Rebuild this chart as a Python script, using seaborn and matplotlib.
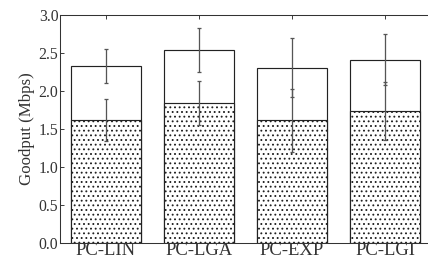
import matplotlib
matplotlib.use("Agg")
import matplotlib.pyplot as plt
import seaborn as sns
import pandas as pd
import numpy as np

categories = ["PC-LIN", "PC-LGA", "PC-EXP", "PC-LGI"]
total_goodput = [2.333, 2.535, 2.307, 2.41]
total_err = [0.225, 0.29, 0.39, 0.335]
dotted_goodput = [1.614, 1.838, 1.614, 1.733]
dotted_err = [0.275, 0.29, 0.41, 0.38]
yticks = [0.0, 0.5, 1.0, 1.5, 2.0, 2.5, 3.0]

sns.set_style("ticks")
plt.rcParams["font.family"] = ["Liberation Serif", "DejaVu Serif"]
plt.rcParams["hatch.linewidth"] = 0.9
plt.rcParams["hatch.color"] = "black"

DPI = 84
fig = plt.figure(figsize=(429 / DPI, 258 / DPI), dpi=DPI)
ax = fig.add_axes([0.1387, 0.058, 0.867, 0.884])

df_total = pd.DataFrame({"cat": categories, "val": total_goodput})
df_dot = pd.DataFrame({"cat": categories, "val": dotted_goodput})

sns.barplot(data=df_total, x="cat", y="val", ax=ax, color="white",
            edgecolor="#222222", linewidth=1.0, width=0.75, errorbar=None,
            saturation=1)
sns.barplot(data=df_dot, x="cat", y="val", ax=ax, color="white",
            edgecolor="#222222", linewidth=1.0, width=0.75, errorbar=None,
            saturation=1, hatch="...")

x = np.arange(len(categories))
ax.errorbar(x, total_goodput, yerr=total_err, fmt="none", ecolor="#555555",
            elinewidth=1.1, capsize=2, capthick=1.1, zorder=5)
ax.errorbar(x, dotted_goodput, yerr=dotted_err, fmt="none", ecolor="#555555",
            elinewidth=1.1, capsize=2, capthick=1.1, zorder=5)

ax.set_xlim(-0.5, 3.5)
ax.set_ylim(0, 3.0)
ax.set_yticks(yticks)
ax.set_yticklabels([f"{v:.1f}" for v in yticks], fontsize=13.5, color="#333333")
ax.set_xticks(x)
ax.set_xticklabels(categories, fontsize=16, color="#222222")
ax.set_xlabel("")
ax.set_ylabel("Goodput (Mbps)", fontsize=14.5, color="#333333", labelpad=3)
ax.tick_params(axis="both", direction="in", length=3, width=0.8, pad=1,
               top=True, right=False, colors="#333333")
ax.tick_params(axis="x", pad=-1)
for s in ["left", "bottom", "top"]:
    ax.spines[s].set_linewidth(0.9)
    ax.spines[s].set_color("#333333")
ax.spines["right"].set_visible(False)

fig.savefig("out.png", dpi=DPI)
